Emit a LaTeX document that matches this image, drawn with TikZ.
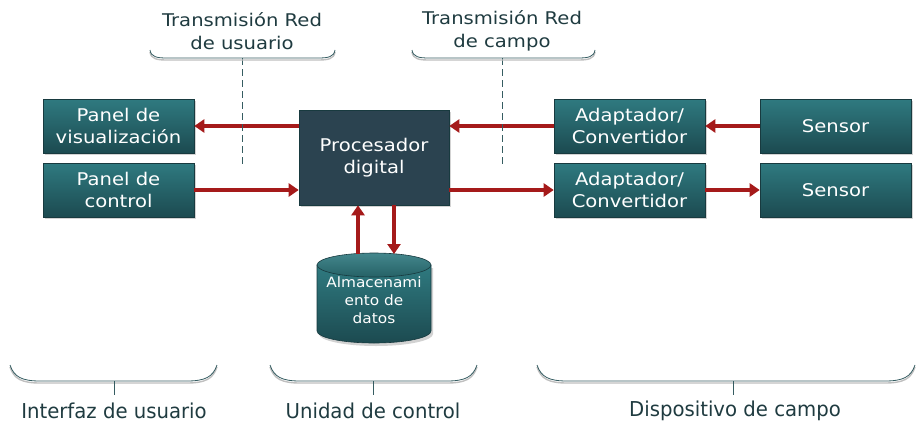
\documentclass[tikz,border=0pt]{standalone}
\usepackage{fontspec}
\setmainfont{DejaVu Sans}
\usetikzlibrary{arrows.meta,shadows}
\definecolor{tealT}{HTML}{2F7A80}
\definecolor{tealB}{HTML}{1C4A50}
\definecolor{procC}{HTML}{2B4350}
\definecolor{arrred}{HTML}{A51A1A}
\definecolor{edgeC}{HTML}{183A3F}
\definecolor{labC}{HTML}{1F3B40}
\definecolor{braceC}{HTML}{355C61}
\begin{document}
\begin{tikzpicture}[x=1pt,y=-1pt]
\useasboundingbox (0,0) rectangle (917,423);
\tikzset{
  box/.style={draw=edgeC, line width=0.6pt, minimum width=151pt, minimum height=54pt,
    inner sep=0pt, top color=tealT, bottom color=tealB, text=white, align=center,
    font=\addfontfeature{FakeStretch=1.12}\fontsize{17.5}{22.5}\selectfont,
    drop shadow={shadow xshift=1.5pt, shadow yshift=-2pt, opacity=0.35}},
  procbox/.style={box, fill=procC, top color=procC, bottom color=procC, minimum width=150pt, minimum height=95pt},
  arr/.style={draw=arrred, line width=4.5pt, -{Triangle[length=10pt,width=13pt]}},
  netline/.style={draw=braceC, line width=1pt, dash pattern=on 7pt off 4pt},
  bracel/.style={draw=braceC, line width=0.8pt},
  braceshadow/.style={draw=black!25, line width=1.4pt},
  lab/.style={text=labC, align=center, font=\addfontfeature{FakeStretch=1.12}\fontsize{17.5}{23}\selectfont},
  botlab/.style={text=labC, font=\addfontfeature{FakeStretch=0.96}\fontsize{20.5}{24}\selectfont},
}
% boxes
\node[box] (pv) at (118.5,126) {Panel de\\visualización};
\node[box] (pc) at (118.5,190) {Panel de\\control};
\node[procbox] (proc) at (374,157.5) {Procesador\\digital};
\node[box] (at) at (629.5,126) {Adaptador/\\Convertidor};
\node[box] (ab) at (629.5,190) {Adaptador/\\Convertidor};
\node[box] (st) at (835.5,126) {Sensor};
\node[box] (sb) at (835.5,190) {Sensor};
% storage cylinder
\fill[black!35,opacity=0.5] (319,268) -- (319,334) arc[start angle=180,end angle=0,x radius=57,y radius=12] -- (433,268) -- cycle;
\path[top color=tealT,bottom color=tealB,draw=edgeC,line width=0.6pt]
  (317,265) -- (317,331) arc[start angle=180,end angle=0,x radius=57,y radius=12] -- (431,265) -- cycle;
\path[top color=tealT!90!white,bottom color=tealT!80!black,draw=edgeC,line width=0.6pt] (374,265) ellipse[x radius=57,y radius=12];
\node[text=white, align=center, font=\addfontfeature{FakeStretch=1.08}\fontsize{14.2}{18}\selectfont] (alm) at (374,300) {Almacenami\\ento de\\datos};
\coordinate (c1) at (358,254);
\coordinate (c2) at (394,254);
% arrows
\draw[arr] (proc.west |- pv.east) -- (pv.east);
\draw[arr] (pc.east) -- (proc.west |- pc.east);
\draw[arr] (at.west) -- (proc.east |- at.west);
\draw[arr] (proc.east |- ab.west) -- (ab.west);
\draw[arr] (st.west) -- (at.east);
\draw[arr] (ab.east) -- (sb.west);
\draw[arr] (c1) -- (proc.south -| c1);
\draw[arr] (proc.south -| c2) -- (c2);
% network lines and top braces
\coordinate (nu) at (242,58);
\coordinate (nc) at (502,58);
\draw[netline] (nu) -- (242,165);
\draw[netline] (nc) -- (502,165);
\draw[braceshadow] (150,52) .. controls (151,59) and (157,60) .. (167,60) -- (318,60) .. controls (328,60) and (334,59) .. (335,52);
\draw[bracel] (150,50) .. controls (151,57) and (157,58) .. (167,58) -- (318,58) .. controls (328,58) and (334,57) .. (335,50);
\draw[braceshadow] (412,52) .. controls (413,59) and (419,60) .. (429,60) -- (578,60) .. controls (588,60) and (594,59) .. (595,52);
\draw[bracel] (412,50) .. controls (413,57) and (419,58) .. (429,58) -- (578,58) .. controls (588,58) and (594,57) .. (595,50);
\node[lab] (tu) at (242,31) {Transmisión Red\\de usuario};
\node[lab] (tc) at (502,31) {Transmisión Red\\de campo};
% bottom braces
\foreach \a/\b/\m in {10/217/114, 270/477/373, 537/915/733}{
  \draw[braceshadow] (\a,367) .. controls (\a+4,379) and (\a+12,383) .. (\a+30,383) -- (\b-30,383) .. controls (\b-12,383) and (\b-4,379) .. (\b,367);
  \draw[bracel] (\a,365) .. controls (\a+4,377) and (\a+12,381) .. (\a+30,381) -- (\b-30,381) .. controls (\b-12,381) and (\b-4,377) .. (\b,365);
  \draw[bracel] (\m,381) -- (\m,395);
}
\node[botlab] (iu) at (114,411) {Interfaz de usuario};
\node[botlab] (uc) at (373,411) {Unidad de control};
\node[botlab] (dc) at (735,411) {Dispositivo de campo};
\end{tikzpicture}
\end{document}
